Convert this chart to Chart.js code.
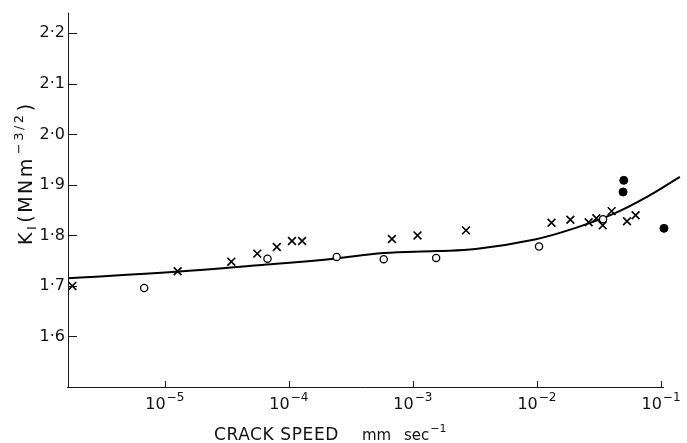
<!DOCTYPE html>
<html><head><meta charset="utf-8">
<script src="https://cdn.jsdelivr.net/npm/chart.js@4"></script>
<style>html,body{margin:0;padding:0;background:#fff}#wrap{width:687px;height:443px;position:relative}</style>
</head><body><div id="wrap"><canvas id="c" width="687" height="443"></canvas></div>
<script>
// ---- data ----
const crossSpeed = [1.80e-6, 1.27e-5, 3.44e-5, 5.57e-5, 8.0e-5, 1.06e-4, 1.28e-4, 6.78e-4, 1.09e-3, 2.68e-3, 1.31e-2, 1.86e-2, 2.61e-2, 3.01e-2, 3.39e-2, 4.0e-2, 5.32e-2, 6.24e-2];
const crossK     = [1.700, 1.729, 1.748, 1.764, 1.777, 1.789, 1.789, 1.793, 1.800, 1.810, 1.825, 1.831, 1.826, 1.834, 1.820, 1.848, 1.828, 1.840];
const openSpeed  = [6.82e-6, 6.73e-5, 2.43e-4, 5.82e-4, 1.54e-3, 1.04e-2, 3.41e-2];
const openK      = [1.696, 1.754, 1.7575, 1.753, 1.7555, 1.778, 1.832];
const solidSpeed = [5.01e-2, 4.95e-2, 0.1057];
const solidK     = [1.909, 1.886, 1.814];
const curveSpeed = [1.66e-6, 1.23e-5, 5.68e-5, 2.32e-4, 5.79e-4, 1.54e-3, 3.21e-3, 9.62e-3, 2.0e-2, 4.17e-2, 7.67e-2, 0.142];
const curveK     = [1.715, 1.728, 1.741, 1.754, 1.765, 1.769, 1.773, 1.792, 1.814, 1.843, 1.876, 1.916];
const xTickValues = [1e-5, 1e-4, 1e-3, 1e-2, 1e-1];
const xTickExponents = ['\u22125', '\u22124', '\u22123', '\u22122', '\u22121'];
const yTickValues = [1.6, 1.7, 1.8, 1.9, 2.0, 2.1, 2.2];
const yTickLabels = ['1\u00B76', '1\u00B77', '1\u00B78', '1\u00B79', '2\u00B70', '2\u00B71', '2\u00B72'];
const xRange = [1.66e-6, 0.142];
const yRange = [1.5, 2.241];

const FONT = "'DejaVu Sans', sans-serif";
const pts = (xs, ys) => xs.map((v, i) => ({x: v, y: ys[i]}));

const axesPlugin = {
  id: 'axesDeco',
  afterDraw(chart) {
    const {ctx, chartArea: a, scales: {x, y}} = chart;
    ctx.save();
    ctx.strokeStyle = '#1a1a1a';
    ctx.lineWidth = 1;
    ctx.beginPath();
    ctx.moveTo(a.left + 0.5, a.top);
    ctx.lineTo(a.left + 0.5, a.bottom + 0.5);
    const xEnd = x.getPixelForValue(xTickValues[xTickValues.length - 1]) + 3;
    ctx.moveTo(a.left - 1, a.bottom + 0.5);
    ctx.lineTo(xEnd, a.bottom + 0.5);
    yTickValues.forEach(v => {
      const p = Math.round(y.getPixelForValue(v)) + 0.5;
      ctx.moveTo(a.left, p); ctx.lineTo(a.left + 9, p);
    });
    xTickValues.forEach(v => {
      const p = Math.round(x.getPixelForValue(v)) + 0.5;
      ctx.moveTo(p, a.bottom); ctx.lineTo(p, a.bottom - 6);
    });
    ctx.stroke();

    ctx.fillStyle = '#111';
    ctx.textBaseline = 'alphabetic';
    ctx.textAlign = 'left';
    // x tick labels: 10 with superscript exponent
    xTickValues.forEach((v, i) => {
      const p = x.getPixelForValue(v);
      ctx.font = '16px ' + FONT;
      const w1 = ctx.measureText('10').width;
      ctx.font = '12px ' + FONT;
      const w2 = ctx.measureText(xTickExponents[i]).width;
      const start = p - (w1 + w2 + 1) / 2;
      ctx.font = '16px ' + FONT;
      ctx.fillText('10', start, a.bottom + 22);
      ctx.font = '12px ' + FONT;
      ctx.fillText(xTickExponents[i], start + w1 + 1, a.bottom + 14);
    });
    // x-axis title
    const by = 440;
    ctx.font = '17px ' + FONT;
    ctx.letterSpacing = '0.6px';
    ctx.fillText('CRACK SPEED', a.left + 146, by);
    ctx.letterSpacing = '0px';
    ctx.font = '15px ' + FONT;
    ctx.fillText('mm', a.left + 294, by);
    ctx.fillText('sec', a.left + 336, by);
    const ws = ctx.measureText('sec').width;
    ctx.font = '11px ' + FONT;
    ctx.fillText('\u22121', a.left + 336 + ws + 1, by - 8);
    // y-axis title (rotated)
    ctx.translate(32, 245);
    ctx.rotate(-Math.PI / 2);
    ctx.letterSpacing = '2.5px';
    let tx = 0;
    const yseq = [
      {t: 'K', s: 19, dy: 0, after: 0},
      {t: 'I', s: 13, dy: 4, after: 1},
      {t: '(MNm', s: 19, dy: 0, after: 2},
      {t: '\u22123/2', s: 13, dy: -9, after: 1},
      {t: ')', s: 19, dy: 0, after: 0}
    ];
    yseq.forEach(p => {
      ctx.font = p.s + 'px ' + FONT;
      ctx.fillText(p.t, tx, p.dy);
      tx += ctx.measureText(p.t).width + p.after;
    });
    ctx.restore();
  }
};

new Chart(document.getElementById('c'), {
  type: 'scatter',
  data: {
    datasets: [
      {type: 'line', data: pts(curveSpeed, curveK), borderColor: '#000', borderWidth: 2, pointRadius: 0,
       tension: 0.4, fill: false, order: 4, clip: false},
      {data: pts(crossSpeed, crossK), pointStyle: 'crossRot', pointRadius: 5.5, borderColor: '#000',
       borderWidth: 1.6, backgroundColor: '#000', order: 1, clip: false},
      {data: pts(openSpeed, openK), pointStyle: 'circle', pointRadius: 3.6, borderColor: '#000',
       borderWidth: 1.3, backgroundColor: '#fff', order: 2, clip: false},
      {data: pts(solidSpeed, solidK), pointStyle: 'circle', pointRadius: 4, borderColor: '#000',
       borderWidth: 1, backgroundColor: '#000', order: 1, clip: false}
    ]
  },
  options: {
    responsive: false,
    animation: false,
    devicePixelRatio: 1,
    layout: {padding: {top: 12, right: 0, left: 0, bottom: 0}},
    plugins: {legend: {display: false}, tooltip: {enabled: false}},
    scales: {
      x: {
        type: 'logarithmic', min: xRange[0], max: xRange[1],
        afterFit: s => { s.height = 56; },
        afterBuildTicks: s => { s.ticks = xTickValues.map(v => ({value: v})); },
        grid: {display: false, drawTicks: false},
        border: {display: false},
        ticks: {display: false}
      },
      y: {
        min: yRange[0], max: yRange[1],
        afterFit: s => { s.width = 68; },
        afterBuildTicks: s => { s.ticks = yTickValues.map(v => ({value: v})); },
        grid: {display: false, drawTicks: false},
        border: {display: false},
        ticks: {
          padding: 3, color: '#111', font: {family: FONT, size: 16}, autoSkip: false,
          callback: (v) => { const i = yTickValues.findIndex(t => Math.abs(t - v) < 1e-6); return i >= 0 ? yTickLabels[i] : ''; }
        }
      }
    }
  },
  plugins: [axesPlugin]
});
</script></body></html>
